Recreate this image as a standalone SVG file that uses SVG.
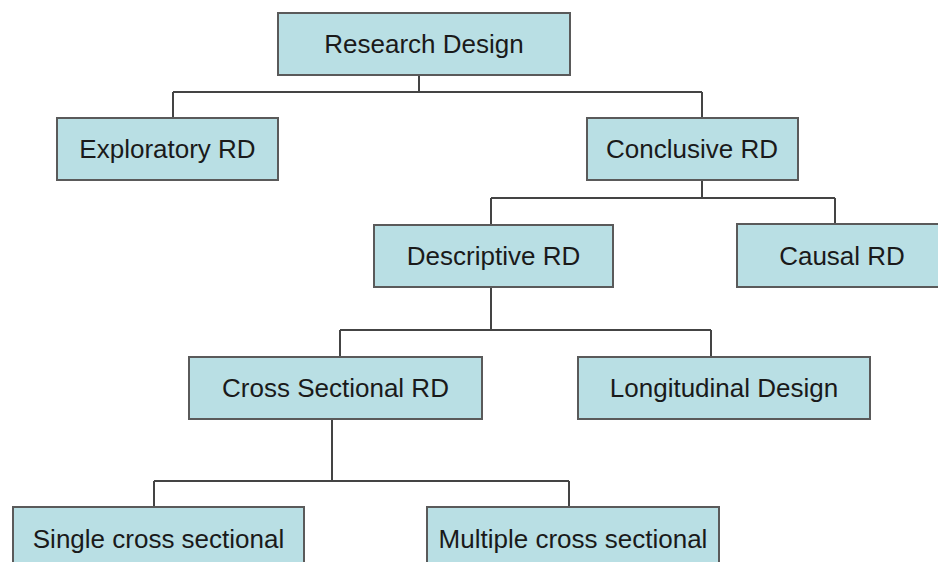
<svg xmlns="http://www.w3.org/2000/svg" width="938" height="562" viewBox="0 0 938 562">
<style>
.box{fill:#b9dfe4;stroke:#5a5a5a;stroke-width:2}
.lbl{font-family:"Liberation Sans",Arial,sans-serif;font-size:26px;fill:#1a1a1a;text-anchor:middle}
.con{fill:none;stroke:#444;stroke-width:2}
</style>
<rect width="938" height="562" fill="#ffffff"/>
<g id="connectors">
<path class="con" d="M419 75V92M173 92H702M173 92V118M702 92V118"/>
<path class="con" d="M702 180V198M491 198H835M491 198V225M835 198V224"/>
<path class="con" d="M491 287V330M340 330H711M340 330V357M711 330V357"/>
<path class="con" d="M332 419V481M154 481H569M154 481V507M569 481V507"/>
</g>
<g id="research-design"><rect class="box" x="278" y="13" width="292" height="62"/><text class="lbl" x="424" y="53">Research Design</text></g>
<g id="exploratory-rd"><rect class="box" x="57" y="118" width="221" height="62"/><text class="lbl" x="167.5" y="158">Exploratory RD</text></g>
<g id="conclusive-rd"><rect class="box" x="587" y="118" width="211" height="62"/><text class="lbl" x="692" y="158">Conclusive RD</text></g>
<g id="descriptive-rd"><rect class="box" x="374" y="225" width="239" height="62"/><text class="lbl" x="493.5" y="265">Descriptive RD</text></g>
<g id="causal-rd"><rect class="box" x="737" y="224" width="212" height="63"/><text class="lbl" x="842" y="265">Causal RD</text></g>
<g id="cross-sectional-rd"><rect class="box" x="189" y="357" width="293" height="62"/><text class="lbl" x="335.5" y="397">Cross Sectional RD</text></g>
<g id="longitudinal-design"><rect class="box" x="578" y="357" width="292" height="62"/><text class="lbl" x="724" y="397">Longitudinal Design</text></g>
<g id="single-cross-sectional"><rect class="box" x="13" y="507" width="291" height="63"/><text class="lbl" x="158.5" y="548">Single cross sectional</text></g>
<g id="multiple-cross-sectional"><rect class="box" x="427" y="507" width="292" height="63"/><text class="lbl" x="573" y="548">Multiple cross sectional</text></g>
</svg>
